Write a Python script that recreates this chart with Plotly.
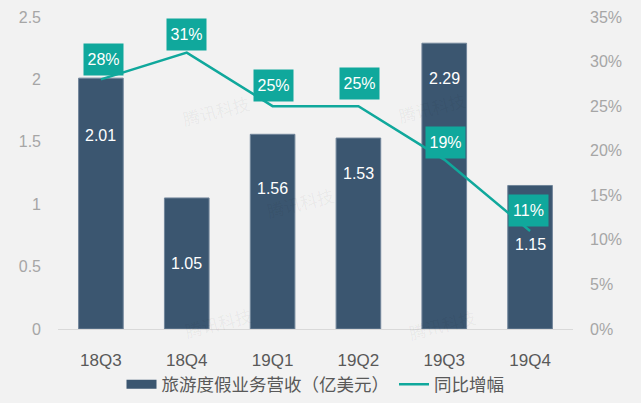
import plotly.graph_objects as go

# chart data
quarters = ['18Q3', '18Q4', '19Q1', '19Q2', '19Q3', '19Q4']
revenue = [2.01, 1.05, 1.56, 1.53, 2.29, 1.15]
growth = [28, 31, 25, 25, 19, 11]
revenue_name = '旅游度假业务营收（亿美元）'
growth_name = '同比增幅'
revenue_ticks = [0, 0.5, 1, 1.5, 2, 2.5]
growth_ticks = [0, 5, 10, 15, 20, 25, 30, 35]
growth_tick_labels = ['0%', '5%', '10%', '15%', '20%', '25%', '30%', '35%']

# label offsets in pixels, the picture places them by hand
revenue_drop = [57, 66, 54, 35, 35, 59]
growth_lift = [20, 18, 21, 23, 17, 20]
growth_nudge = [3, 0, 1, 1, 1, -2]

FONT = 'Liberation Sans, Arial, Noto Sans CJK SC, sans-serif'
BAR = '#3b5670'
TEAL = '#10a89c'

fig = go.Figure()

# Bars on the left axis
fig.add_trace(go.Bar(x=quarters, y=revenue, name=revenue_name, width=0.52, showlegend=False,
                     marker=dict(color=BAR, line=dict(color='#71859a', width=1))))

# Legend entry only, the wide flat swatch of the bars
fig.add_trace(go.Scatter(x=[None], y=[None], name=revenue_name, mode='lines',
                         line=dict(color=BAR, width=9)))

# Growth line on the right axis
fig.add_trace(go.Scatter(x=quarters, y=growth, name=growth_name, yaxis='y2', mode='lines',
                         line=dict(color=TEAL, width=2.5)))

# Value labels inside the bars
for q, v, drop in zip(quarters, revenue, revenue_drop):
    fig.add_annotation(x=q, y=v, yref='y', text=f'{v:.2f}', showarrow=False, yshift=-drop,
                       font=dict(color='white', size=16, family=FONT))

# Boxed growth labels
for q, g, lift, nudge in zip(quarters, growth, growth_lift, growth_nudge):
    fig.add_annotation(x=q, y=g, yref='y2', text=f'{g}%', showarrow=False,
                       yshift=lift, xshift=nudge, bgcolor=TEAL, borderpad=0,
                       width=39, height=31,
                       font=dict(color='white', size=16, family=FONT))

# Faint watermarks
for px_x, px_y in [(178, 88), (180, 345), (470, 85), (480, 347), (300, 225)]:
    fig.add_annotation(xref='paper', yref='paper', x=(px_x - 58) / 515, y=(329 - px_y) / 312,
                       text='腾讯科技', showarrow=False, textangle=-14,
                       font=dict(color='rgba(0,0,0,0.05)', size=17, family='Noto Sans CJK SC'))

fig.update_layout(
    width=641, height=403,
    margin=dict(l=58, r=68, t=17, b=74, autoexpand=False),
    paper_bgcolor='#f2f2f2',
    plot_bgcolor='#f2f2f2',
    showlegend=True,
    legend=dict(orientation='h', x=0.5, xanchor='center', y=-0.12, yanchor='top',
                font=dict(size=17.5, color='#595959', family=FONT), itemwidth=30,
                bgcolor='rgba(0,0,0,0)'),
    xaxis=dict(showgrid=False, showline=True, linecolor='#d9d9d9', linewidth=1, ticks='',
               ticklabelstandoff=16, tickfont=dict(size=17, color='#595959', family=FONT)),
    yaxis=dict(range=[0, 2.5], tickvals=revenue_ticks, showgrid=False, zeroline=False,
               ticklabelstandoff=16, tickfont=dict(size=16, color='#a6a6a6', family=FONT)),
    yaxis2=dict(range=[0, 35], tickvals=growth_ticks, ticktext=growth_tick_labels,
                overlaying='y', side='right', showgrid=False, zeroline=False,
                ticklabelstandoff=16, tickfont=dict(size=16, color='#a6a6a6', family=FONT)),
)

# drop the page margin so the chart fills the window
fig.write_html("out.html", config=dict(displayModeBar=False),
               post_script="document.body.style.margin='0';")
